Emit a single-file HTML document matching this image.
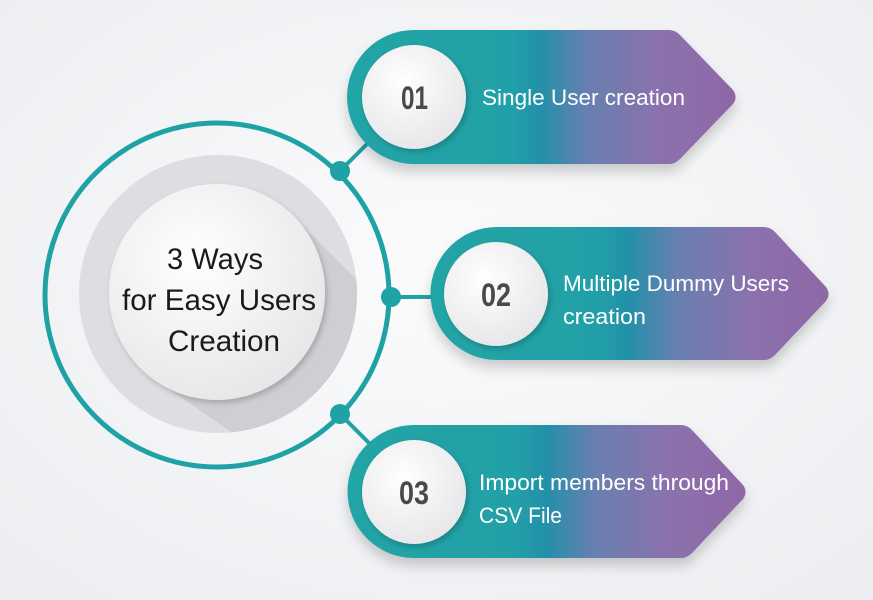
<!DOCTYPE html>
<html><head><meta charset="utf-8"><style>
html,body{margin:0;padding:0;background:#f1f2f4;}
svg{display:block;}
.t{font-family:"Liberation Sans",sans-serif;fill:#fff;font-size:22px;}
.n{font-family:"Liberation Sans",sans-serif;fill:#4a4a4c;font-size:32px;font-weight:bold;}
.c{font-family:"Liberation Sans",sans-serif;fill:#1a1a1a;font-size:30px;}
</style></head><body>
<svg width="873" height="600" viewBox="0 0 873 600" xmlns="http://www.w3.org/2000/svg">
<defs>
<radialGradient id="bg" cx="0.5" cy="0.45" r="0.7">
<stop offset="0" stop-color="#fbfbfc"/><stop offset="1" stop-color="#eceef1"/>
</radialGradient>
<linearGradient id="g" x1="0" x2="1" y1="0" y2="0">
<stop offset="0" stop-color="#20a5a6"/><stop offset="0.42" stop-color="#21a0a7"/>
<stop offset="0.5" stop-color="#2490a9"/><stop offset="0.62" stop-color="#687fb0"/>
<stop offset="0.8" stop-color="#8a72ad"/><stop offset="1" stop-color="#8f67a6"/>
</linearGradient>
<radialGradient id="wd" cx="0.4" cy="0.35" r="0.7">
<stop offset="0" stop-color="#ffffff"/><stop offset="1" stop-color="#e6e6e8"/>
</radialGradient>
<clipPath id="gc"><circle cx="218" cy="294" r="139"/></clipPath>
<filter id="sh" x="-20%" y="-20%" width="140%" height="150%"><feDropShadow dx="0" dy="8" stdDeviation="6" flood-color="#000" flood-opacity="0.18"/></filter>
<filter id="sh2" x="-20%" y="-20%" width="140%" height="140%"><feDropShadow dx="2" dy="3" stdDeviation="3" flood-color="#000" flood-opacity="0.2"/></filter>
</defs>
<rect width="873" height="600" fill="url(#bg)"/>

<g stroke="#1fa2a6" stroke-width="4">
<line x1="340" y1="171" x2="375" y2="136"/>
<line x1="390" y1="297" x2="432" y2="297"/>
<line x1="340" y1="414" x2="375" y2="449"/>
</g>
<circle cx="217" cy="295" r="172" fill="none" stroke="#1fa2a6" stroke-width="5"/>
<circle cx="218" cy="294" r="139" fill="#dddee1"/>
<polygon clip-path="url(#gc)" points="293,216 420,343 290,473 142,370" fill="#c8c9cc" opacity="0.75"/>
<circle cx="217" cy="292" r="108" fill="url(#wd)" filter="url(#sh2)"/>
<text class="c" x="167" y="269" textLength="96" lengthAdjust="spacingAndGlyphs">3 Ways</text>
<text class="c" x="122" y="310" textLength="194" lengthAdjust="spacingAndGlyphs">for Easy Users</text>
<text class="c" x="168" y="351" textLength="112" lengthAdjust="spacingAndGlyphs">Creation</text>
<g fill="#1fa2a6">
<circle cx="340" cy="171" r="10"/><circle cx="391" cy="297" r="10"/><circle cx="340" cy="414" r="10"/>
</g>

<g filter="url(#sh)">
<path d="M414,30 H669 Q675,30 680,35 L733,90 Q738,97 733,104 L680,159 Q675,164 669,164 H414 A67,67 0 0 1 414,30 Z" fill="url(#g)"/>
</g>
<circle cx="414" cy="97" r="52" fill="url(#wd)" filter="url(#sh2)"/>
<text class="n" x="401" y="109" textLength="27" lengthAdjust="spacingAndGlyphs">01</text>
<text class="t" x="482" y="105" textLength="203" lengthAdjust="spacingAndGlyphs">Single User creation</text>

<g filter="url(#sh)">
<path d="M497,227 H764 Q770,227 775,232 L826,287 Q831,294 826,301 L775,355 Q770,360 764,360 H497 A66.5,66.5 0 0 1 497,227 Z" fill="url(#g)"/>
</g>
<circle cx="496" cy="294" r="52" fill="url(#wd)" filter="url(#sh2)"/>
<text class="n" x="481" y="306" textLength="30" lengthAdjust="spacingAndGlyphs">02</text>
<text class="t" x="563" y="291" textLength="226" lengthAdjust="spacingAndGlyphs">Multiple Dummy Users</text>
<text class="t" x="563" y="324" textLength="83" lengthAdjust="spacingAndGlyphs">creation</text>

<g filter="url(#sh)">
<path d="M414,425 H681 Q687,425 692,430 L743,485 Q748,492 743,499 L692,553 Q687,558 681,558 H414 A66.5,66.5 0 0 1 414,425 Z" fill="url(#g)"/>
</g>
<circle cx="414" cy="492" r="52" fill="url(#wd)" filter="url(#sh2)"/>
<text class="n" x="399" y="504" textLength="30" lengthAdjust="spacingAndGlyphs">03</text>
<text class="t" x="479" y="490" textLength="250" lengthAdjust="spacingAndGlyphs">Import members through</text>
<text class="t" x="479" y="523" textLength="83" lengthAdjust="spacingAndGlyphs">CSV File</text>
</svg>
</body></html>
